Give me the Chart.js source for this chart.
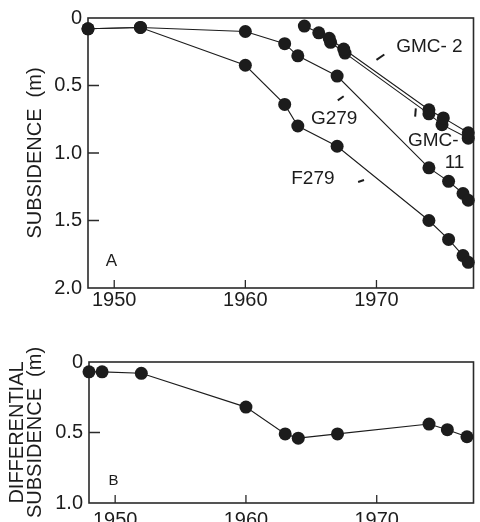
<!DOCTYPE html>
<html>
<head>
<meta charset="utf-8">
<script src="https://cdn.jsdelivr.net/npm/chart.js@4.4.0/dist/chart.umd.min.js"></script>
<style>
  html, body { margin: 0; padding: 0; background: #fff; }
  #wrap { position: relative; width: 480px; height: 522px; overflow: hidden; }
  #topChart { position: absolute; left: 0; top: 0; }
  #botChart { position: absolute; left: 0; top: 310px; }
</style>
</head>
<body>
<div id="wrap">
  <canvas id="topChart" width="480" height="310"></canvas>
  <canvas id="botChart" width="480" height="212"></canvas>
</div>
<script>
// tick labels
const yearTicks = [1950, 1960, 1970];
const subsidenceTicks = [0, 0.5, 1.0, 1.5, 2.0];
const diffTicks = [0, 0.5, 1.0];

// panel A - subsidence (m)
const g279Years = [1948, 1952, 1960, 1963, 1964, 1967, 1974, 1975.5, 1976.6, 1977];
const g279Values = [0.08, 0.07, 0.10, 0.19, 0.28, 0.43, 1.11, 1.21, 1.30, 1.35];
const f279Years = [1948, 1952, 1960, 1963, 1964, 1967, 1974, 1975.5, 1976.6, 1977];
const f279Values = [0.08, 0.07, 0.35, 0.64, 0.80, 0.95, 1.50, 1.64, 1.76, 1.81];
const gmc2Years = [1964.5, 1965.6, 1966.4, 1967.5, 1974, 1975.1, 1977];
const gmc2Values = [0.06, 0.11, 0.15, 0.23, 0.68, 0.74, 0.85];
const gmc11Years = [1966.5, 1967.6, 1974, 1975, 1977];
const gmc11Values = [0.18, 0.26, 0.71, 0.79, 0.89];

// panel B - differential subsidence (m)
const diffYears = [1948, 1949, 1952, 1960, 1963, 1964, 1967, 1974, 1975.4, 1976.9];
const diffValues = [0.07, 0.07, 0.08, 0.32, 0.51, 0.54, 0.51, 0.44, 0.48, 0.53];

const FONT = "'Liberation Sans', Arial, Helvetica, sans-serif";
const INK = '#1c1c1c';

function toPoints(xs, ys) {
    return xs.map((x, i) => ({ x: x, y: ys[i] }));
}

function series(label, xs, ys) {
    return {
        label: label,
        data: toPoints(xs, ys),
        borderColor: INK,
        borderWidth: 1.1,
        backgroundColor: INK,
        pointRadius: 6.5,
        pointHoverRadius: 6.5,
        pointBorderWidth: 0,
        tension: 0,
        clip: false
    };
}

// box round the plot, inward tick marks, and the text notes
const framePlugin = {
    id: 'frame',
    beforeDatasetsDraw(chart) {
        const { ctx, chartArea: a, scales } = chart;
        ctx.save();
        ctx.strokeStyle = '#2a2a2a';
        ctx.lineWidth = 1.6;
        ctx.strokeRect(a.left, a.top, a.width, a.height);
        ctx.lineWidth = 1.3;
        ctx.beginPath();
        scales.x.ticks.forEach(t => {
            const px = scales.x.getPixelForValue(t.value);
            ctx.moveTo(px, a.bottom);
            ctx.lineTo(px, a.bottom - 8);
        });
        scales.y.ticks.forEach(t => {
            if (t.value === scales.y.min || t.value === scales.y.max) return;
            const py = scales.y.getPixelForValue(t.value);
            ctx.moveTo(a.left, py);
            ctx.lineTo(a.left + 11, py);
        });
        ctx.stroke();
        ctx.restore();
    },
    afterDraw(chart, args, opts) {
        const { ctx, scales } = chart;
        ctx.save();
        ctx.fillStyle = INK;
        ctx.textAlign = 'left';
        ctx.textBaseline = 'middle';
        (opts.notes || []).forEach(n => {
            ctx.font = n.size + 'px ' + FONT;
            ctx.fillText(n.text, scales.x.getPixelForValue(n.year), scales.y.getPixelForValue(n.value));
        });
        ctx.strokeStyle = INK;
        ctx.lineWidth = 2;
        (opts.pointers || []).forEach(p => {
            ctx.beginPath();
            ctx.moveTo(scales.x.getPixelForValue(p[0]), scales.y.getPixelForValue(p[1]));
            ctx.lineTo(scales.x.getPixelForValue(p[2]), scales.y.getPixelForValue(p[3]));
            ctx.stroke();
        });
        ctx.restore();
    }
};

function makeOptions(cfg) {
    return {
        responsive: false,
        animation: false,
        layout: { padding: { left: 0, top: cfg.top, right: 2, bottom: 0 } },
        plugins: {
            legend: { display: false },
            tooltip: { enabled: false },
            frame: { notes: cfg.notes, pointers: cfg.pointers }
        },
        scales: {
            x: {
                type: 'linear',
                min: 1948,
                max: 1977.4,
                grid: { display: false, drawTicks: false },
                border: { display: false },
                ticks: {
                    color: INK,
                    padding: cfg.xPad,
                    font: { family: FONT, size: 20 },
                    callback: v => String(v)
                },
                afterBuildTicks: s => { s.ticks = yearTicks.map(v => ({ value: v })); },
                afterFit: s => { s.height = cfg.xHeight; }
            },
            y: {
                type: 'linear',
                reverse: true,
                min: 0,
                max: cfg.yMax,
                grid: { display: false, drawTicks: false },
                border: { display: false },
                ticks: {
                    color: INK,
                    padding: 6,
                    font: { family: FONT, size: 20 },
                    callback: v => v === 0 ? '0' : v.toFixed(1)
                },
                afterBuildTicks: s => { s.ticks = cfg.yTicks.map(v => ({ value: v })); },
                afterFit: s => { s.width = cfg.yWidth; },
                title: {
                    display: true,
                    text: cfg.title,
                    color: INK,
                    font: { family: FONT, size: 20, lineHeight: cfg.titleLine },
                    padding: { top: cfg.titlePad, bottom: 0 }
                }
            }
        }
    };
}

new Chart(document.getElementById('topChart'), {
    type: 'line',
    data: {
        datasets: [
            series('G279', g279Years, g279Values),
            series('F279', f279Years, f279Values),
            series('GMC-2', gmc2Years, gmc2Values),
            series('GMC-11', gmc11Years, gmc11Values)
        ]
    },
    options: makeOptions({
        top: 14, xPad: 0, xHeight: 22, yMax: 2.0, yTicks: subsidenceTicks, yWidth: 88,
        title: 'SUBSIDENCE  (m)', titleLine: 1.2, titlePad: 23,
        notes: [
            { text: 'GMC- 2', year: 1971.5, value: 0.21, size: 19 },
            { text: 'G279', year: 1965.0, value: 0.75, size: 19 },
            { text: 'GMC-', year: 1972.4, value: 0.91, size: 19 },
            { text: '11', year: 1975.2, value: 1.07, size: 19 },
            { text: 'F279', year: 1963.5, value: 1.19, size: 19 },
            { text: 'A', year: 1949.35, value: 1.80, size: 17 }
        ],
        pointers: [
            [1970.6, 0.27, 1970.0, 0.31],
            [1973.0, 0.67, 1972.95, 0.73],
            [1967.5, 0.58, 1967.05, 0.61],
            [1968.6, 1.215, 1969.05, 1.2]
        ]
    }),
    plugins: [framePlugin]
});

new Chart(document.getElementById('botChart'), {
    type: 'line',
    data: {
        datasets: [series('Differential', diffYears, diffValues)]
    },
    options: makeOptions({
        top: 52, xPad: 5, xHeight: 19, yMax: 1.0, yTicks: diffTicks, yWidth: 89,
        title: ['DIFFERENTIAL', 'SUBSIDENCE  (m)'], titleLine: 0.9, titlePad: 8,
        notes: [
            { text: 'B', year: 1949.5, value: 0.84, size: 15 }
        ],
        pointers: []
    }),
    plugins: [framePlugin]
});
</script>
</body>
</html>
